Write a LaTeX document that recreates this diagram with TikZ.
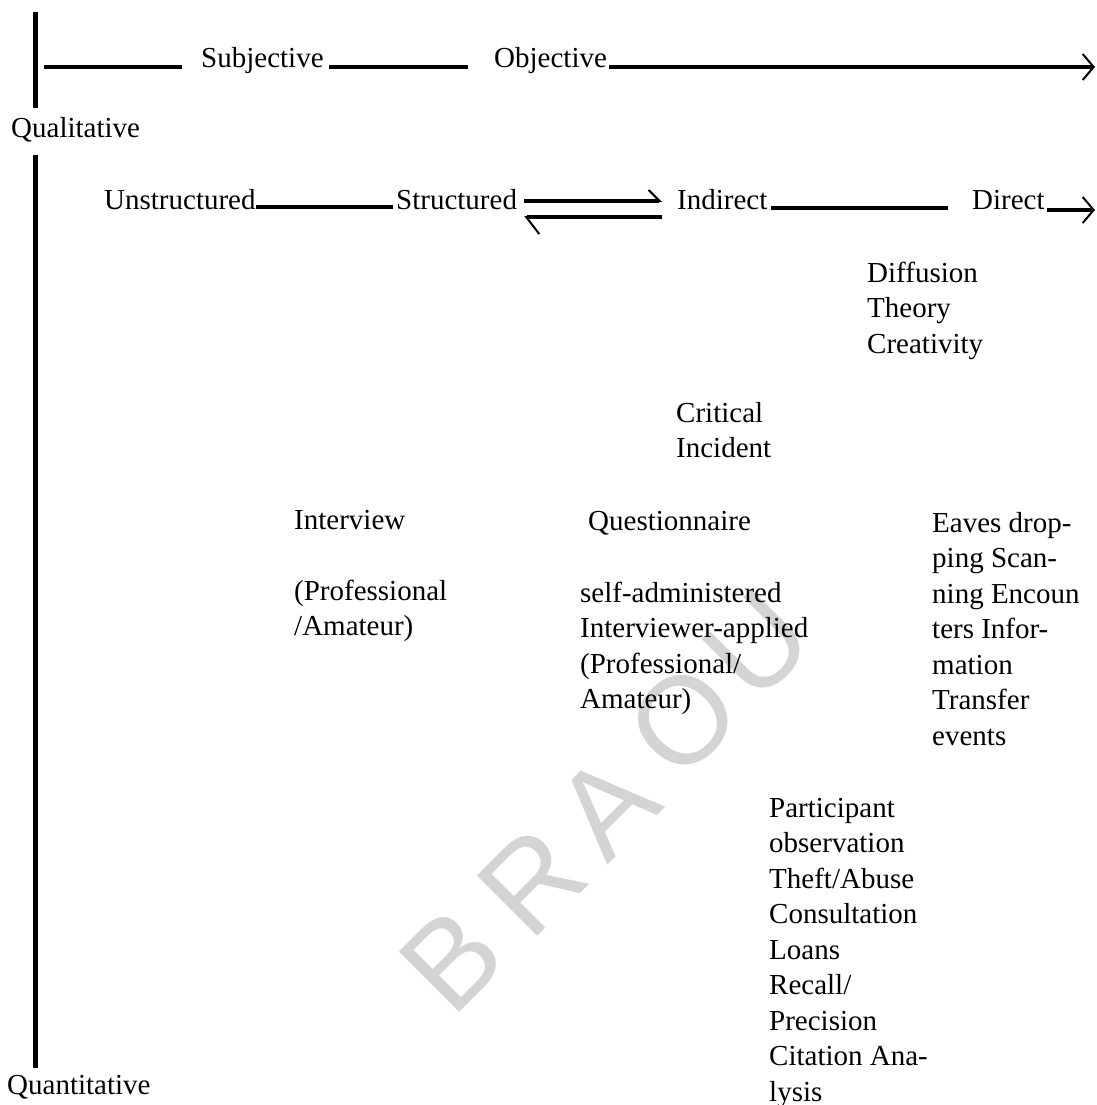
\documentclass[tikz,border=0pt]{standalone}
\usepackage{fontspec}
\setmainfont{Liberation Serif}
\newfontfamily\wmfont{Liberation Sans}
\usetikzlibrary{arrows.meta}
\begin{document}
\begin{tikzpicture}[x=1pt,y=-1pt,
  txt/.style={anchor=base west,inner sep=0pt,font=\fontsize{29}{35.5}\selectfont,align=left},
  axisbar/.style={line width=5pt},
  rulel/.style={line width=4.5pt},
  wm/.style={font=\wmfont\fontsize{124}{124}\selectfont,text=black!17,rotate=45,inner sep=0pt},
  bigtip/.style={-{Straight Barb[length=11pt,width=26pt,line width=2pt]}},
  harpup/.style={-{Straight Barb[left,length=11pt,width=22pt,line width=2pt]}},
  harpdown/.style={-{Straight Barb[left,length=13pt,width=34pt,line width=2pt]}}
]
\fill[white] (0,0) rectangle (1096,1105);
\useasboundingbox (0,0) rectangle (1096,1105);

% watermark
\node[wm] (wB) at (452,960) {B};
\node[wm] (wR) at (532,882) {R};
\node[wm] (wA) at (607,806) {A};
\node[wm] (wO) at (683,720) {O};
\node[wm] (wU) at (757,645) {U};

% axes
\coordinate (b1top) at (35,12);
\coordinate (b1bot) at (35,108);
\coordinate (b2top) at (35,155);
\coordinate (b2bot) at (35,1068);
\draw[axisbar] (b1top) -- (b1bot);
\draw[axisbar] (b2top) -- (b2bot);

\node[txt] (qual) at (11,138) {Qualitative};
\node[txt] (quant) at (7,1094) {Quantitative};

% top row
\node[txt] (subj) at (201,68) {Subjective};
\node[txt] (obj) at (494,68) {Objective};
\coordinate (topL) at (44,67);
\coordinate (topR) at (1095,67);
\draw[rulel] (topL) -- ([xshift=-19pt,yshift=1pt]subj.base west);
\draw[rulel] ([xshift=5pt,yshift=1pt]subj.base east) -- ([xshift=-26pt,yshift=1pt]obj.base west);
\draw[rulel,bigtip] ([xshift=2pt,yshift=1pt]obj.base east) -- (topR);

% second row
\node[txt] (unstr) at (104,209) {Unstructured};
\node[txt] (str) at (396,209) {Structured};
\node[txt] (ind) at (677,209) {Indirect};
\node[txt] (dir) at (972,209) {Direct};
\coordinate (dirR) at (1095,210);
\draw[line width=4pt] ([yshift=2pt]unstr.base east) -- ([xshift=-3pt,yshift=2pt]str.base west);
\draw[line width=4pt,harpup] ([xshift=7pt,yshift=8pt]str.base east) -- ([xshift=-15pt,yshift=8pt]ind.base west);
\draw[line width=4pt,harpdown] ([xshift=-15pt,yshift=-8pt]ind.base west) -- ([xshift=7pt,yshift=-8pt]str.base east);
\draw[line width=4pt] ([xshift=3pt,yshift=1pt]ind.base east) -- ([xshift=-24pt,yshift=1pt]dir.base west);
\draw[line width=4pt,bigtip] ([xshift=2pt,yshift=-1pt]dir.base east) -- (dirR);

% text blocks (base anchor = baseline of last line)
\node[txt] (diff) at (867,353) {Diffusion\\Theory\\Creativity};
\node[txt] (crit) at (676,457.5) {Critical\\Incident};
\node[txt] (intv) at (294,529) {Interview};
\node[txt] (intvsub) at (294,635.5) {(Professional\\/Amateur)};
\node[txt] (quest) at (588,530) {Questionnaire};
\node[txt] (questsub) at (580,708.5) {self-administered\\Interviewer-applied\\(Professional/\\Amateur)};
\node[txt] (eaves) at (932,745) {Eaves drop-\\ping Scan-\\ning Encoun\\ters Infor-\\mation\\Transfer\\events};
\node[txt] (part) at (769,1101) {Participant\\observation\\Theft/Abuse\\Consultation\\Loans\\Recall/\\Precision\\Citation Ana-\\lysis};
\end{tikzpicture}
\end{document}
